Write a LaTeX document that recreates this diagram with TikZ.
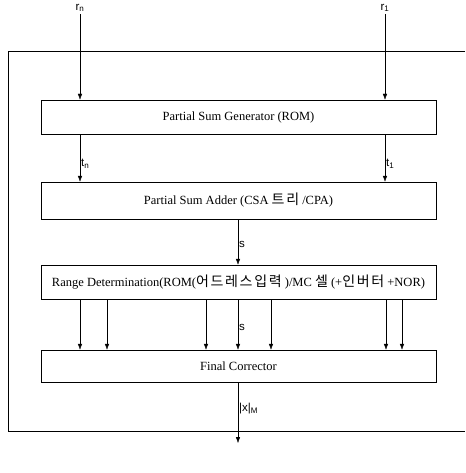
\documentclass[tikz,border=0pt]{standalone}
\usepackage{fontspec}
\setmainfont{Liberation Serif}
\newfontfamily\kr[Scale=1.12, LetterSpace=12]{Noto Sans CJK KR}
\newfontfamily\lab{Liberation Sans}
\usetikzlibrary{arrows.meta, positioning}
\tikzset{
  blk/.style={draw, thin, minimum width=395pt, inner sep=0pt, font=\fontsize{12.5}{14}\selectfont},
  sig/.style={-{Latex[length=6pt,width=4.5pt]}, thin},
  lbl/.style={font=\lab\fontsize{11.5}{13}\selectfont, inner sep=1pt}
}

\begin{document}
\begin{tikzpicture}[x=1pt, y=-1pt]
  \useasboundingbox (0,0) rectangle (465,473);
  % outer frame, open to the right
  \draw[thin] (465,51) -- (8,51) -- (8,431) -- (465,431);
  % blocks
  \node[blk, minimum height=34pt] (gen) at (238.5,117) {Partial Sum Generator (ROM)};
  \node[blk, minimum height=37pt] (add) at (238.5,200.5) {Partial Sum Adder (CSA {\kr 트리} /CPA)};
  \node[blk, minimum height=34pt] (rng) at (238.5,282) {Range Determination(ROM({\kr 어드레스입력} )/MC {\kr 셀} (+{\kr 인버터} +NOR)};
  \node[blk, minimum height=32pt] (fin) at (238.5,366) {Final Corrector};
  % inputs
  \coordinate (rn) at (80,14);
  \coordinate (r1) at (385,14);
  \node[lbl] (rnlab) at (80,8) {r\textsubscript{n}};
  \node[lbl] (r1lab) at (385,8) {r\textsubscript{1}};
  \draw[sig] (rn) -- (gen.north -| rn);
  \draw[sig] (r1) -- (gen.north -| r1);
  % partial sums
  \draw[sig] (gen.south -| rn) -- (add.north -| rn) node[lbl, pos=0.62, right] (tn) {t\textsubscript{n}};
  \draw[sig] (gen.south -| r1) -- (add.north -| r1) node[lbl, pos=0.62, right] (t1) {t\textsubscript{1}};
  % sum
  \coordinate (mid) at (238,0);
  \draw[sig] (add.south -| mid) -- (rng.north -| mid) node[lbl, pos=0.55, right] (s1) {s};
  % range outputs
  \foreach \px/\nm in {80/a, 107/b, 206/c, 271/d, 386/e, 402/f}{
    \coordinate (\nm) at (\px,0);
    \draw[sig] (rng.south -| \nm) -- (fin.north -| \nm);
  }
  \draw[sig] (rng.south -| mid) -- (fin.north -| mid) node[lbl, pos=0.55, right] (s2) {s};
  % result
  \coordinate (out) at (238,443);
  \draw[sig] (fin.south -| mid) -- (out) node[lbl, pos=0.43, right] (res) {|x|\textsubscript{M}};
\end{tikzpicture}
\end{document}
